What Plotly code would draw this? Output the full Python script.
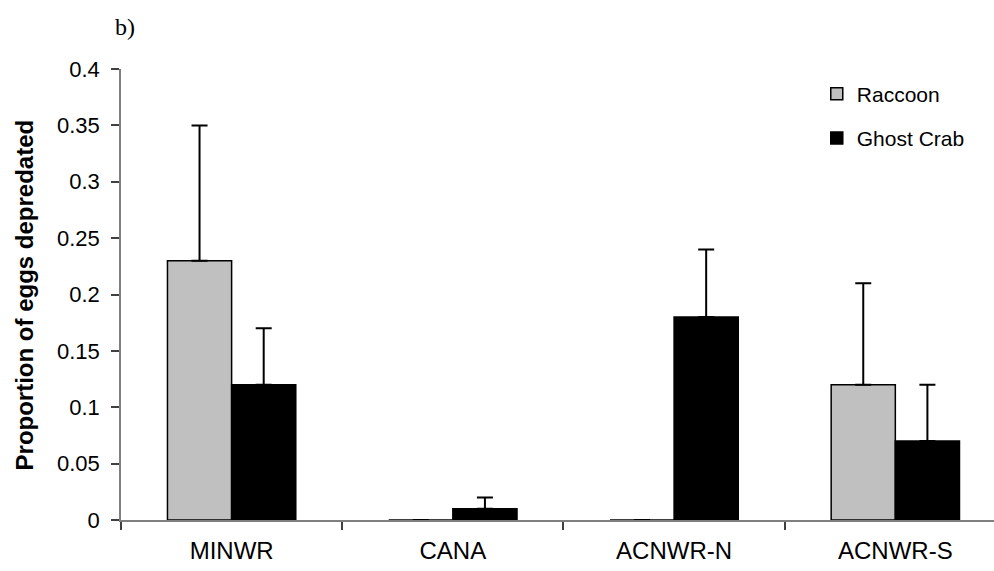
import plotly.graph_objects as go

# Nest-site predation data
sites = ["MINWR", "CANA", "ACNWR-N", "ACNWR-S"]
raccoon = [0.23, 0.0, 0.0, 0.12]
raccoon_err = [0.12, 0.0, 0.0, 0.09]
ghost_crab = [0.12, 0.01, 0.18, 0.07]
ghost_crab_err = [0.05, 0.01, 0.06, 0.05]
y_ticks = [0, 0.05, 0.1, 0.15, 0.2, 0.25, 0.3, 0.35, 0.4]
y_tick_text = ["0", "0.05", "0.1", "0.15", "0.2", "0.25", "0.3", "0.35", "0.4"]

FONT = "Liberation Sans, Arial, sans-serif"

fig = go.Figure()
fig.add_trace(go.Bar(
    x=sites, y=raccoon, name="Raccoon", legendgroup="r",
    marker=dict(color="#c0c0c0", line=dict(color="black", width=1.5)),
    error_y=dict(type="data", array=raccoon_err, arrayminus=[0] * len(sites),
                 symmetric=False, color="black", thickness=2, width=8),
))
fig.add_trace(go.Bar(
    x=sites, y=ghost_crab, name="Ghost Crab", legendgroup="g",
    marker=dict(color="black", line=dict(color="black", width=1.5)),
    error_y=dict(type="data", array=ghost_crab_err, arrayminus=[0] * len(sites),
                 symmetric=False, color="black", thickness=2, width=8),
))

fig.update_layout(
    width=994, height=571,
    margin=dict(l=121, r=0, t=69, b=51),
    paper_bgcolor="white", plot_bgcolor="white",
    barmode="group", bargap=0.42, bargroupgap=0,
    font=dict(family=FONT, size=18, color="black"),
    legend=dict(
        x=0.797, y=0.99, xanchor="left", yanchor="top",
        traceorder="grouped", tracegroupgap=14,
        font=dict(family=FONT, size=21, color="black"),
        bgcolor="rgba(0,0,0,0)",
    ),
    xaxis=dict(
        range=[-0.5, 3.446], showline=True, linecolor="#808080", linewidth=1.5,
        ticks="outside", tickson="boundaries", ticklen=8, tickcolor="#404040",
        tickwidth=1.5, showgrid=False, zeroline=False, ticklabelstandoff=8,
        tickfont=dict(family=FONT, size=24, color="black"),
    ),
    yaxis=dict(
        range=[0, 0.4], tickvals=y_ticks, ticktext=y_tick_text,
        showline=True, linecolor="#808080", linewidth=1.5,
        ticks="outside", ticklen=8, tickcolor="#404040", tickwidth=1.5,
        showgrid=False, zeroline=False, ticklabelstandoff=7,
        tickfont=dict(family=FONT, size=22, color="black"),
    ),
    annotations=[
        dict(
            text="b)", xref="paper", yref="paper", x=0.0046, y=1.093,
            showarrow=False, xanchor="center", yanchor="middle",
            font=dict(family="Liberation Serif, Times New Roman, serif", size=24, color="black"),
        ),
        dict(
            text="<b>Proportion of eggs depredated</b>", textangle=-90,
            xref="paper", yref="paper", x=-0.11, y=0.5,
            showarrow=False, xanchor="center", yanchor="middle",
            font=dict(family=FONT, size=24, color="black"),
        ),
    ],
)

fig.write_html("out.html")
